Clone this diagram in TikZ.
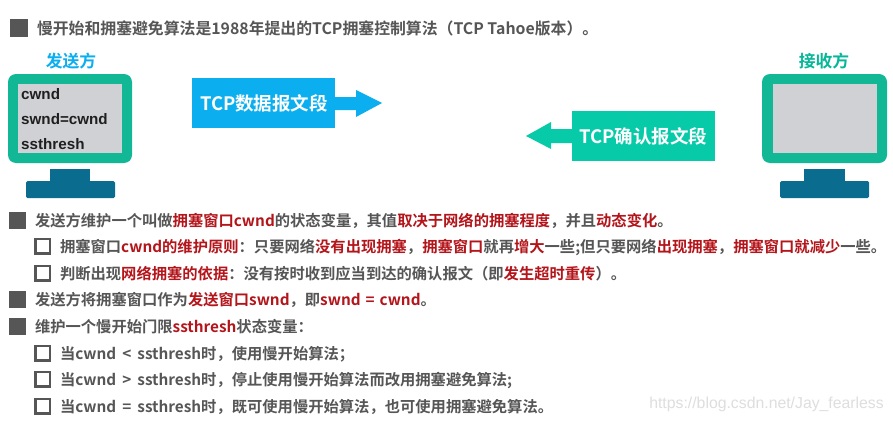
\documentclass[tikz,border=0pt]{standalone}
\usepackage{fontspec}
\setmainfont{Noto Sans CJK SC}[BoldFont={* Bold}]
\newfontfamily\cjkb{Noto Sans CJK SC Bold}
\newfontfamily\latinb{Liberation Sans Bold}
\newfontfamily\wmfont{Liberation Sans}
\usetikzlibrary{positioning}
\definecolor{txtgray}{HTML}{565656}
\definecolor{hired}{HTML}{B3151B}
\definecolor{framegreen}{HTML}{12B796}
\definecolor{standblue}{HTML}{0A6C8E}
\definecolor{screengray}{HTML}{D0D1D5}
\definecolor{pktblue}{HTML}{0BAEEF}
\definecolor{ackgreen}{HTML}{07CBA8}
\newcommand{\hr}[1]{\textcolor{hired}{#1}}
\newcommand{\opgap}{\hspace{2.6pt}}
\tikzset{
  x=1pt,y=-1pt,
  line/.style={anchor=base west,inner sep=0pt,outer sep=0pt,text=txtgray,font=\fontsize{15.3}{18}\selectfont\cjkb},
  solidb/.style={fill=txtgray,draw=none},
  hollowb/.style={draw=txtgray,line width=2.4pt,fill=white},
  frame/.style={fill=framegreen,rounded corners=8pt,draw=none},
  scr/.style={fill=screengray,draw=none},
  stand/.style={fill=standblue,draw=none},
  mono/.style={anchor=base west,inner sep=0pt,text=black!88,font=\fontsize{15.2}{18}\selectfont\latinb},
  pkt/.style={anchor=center,inner sep=0pt,text=white,font=\fontsize{18.5}{20}\selectfont\cjkb},
  who/.style={anchor=center,inner sep=0pt,font=\fontsize{16.8}{18}\selectfont\cjkb},
}
\begin{document}
\begin{tikzpicture}
\useasboundingbox (0,0) rectangle (893,420);
\fill[white] (0,0) rectangle (893,420);

% header
\fill[solidb] (10,19) rectangle (28,37);
\node[line,font=\fontsize{15.85}{18}\selectfont\cjkb] (l1) at (37,35) {慢开始和拥塞避免算法是1988年提出的TCP拥塞控制算法（TCP Tahoe版本）。};

% sender
\node[who,text=pktblue] (sender) at (71,61) {发送方};
\fill[frame] (8,74) rectangle (132,163);
\fill[scr] (18,84) rectangle (122,153);
\fill[stand] (50,169) rectangle (90,182);
\fill[stand,rounded corners=1.5pt] (26,181) rectangle (115,198);
\node[mono] (m1) at (21,99) {cwnd};
\node[mono] (m2) at (21,124) {swnd=cwnd};
\node[mono] (m3) at (21,149) {ssthresh};

% receiver
\node[who,text=ackgreen!90!black] (receiver) at (824,61) {接收方};
\fill[frame] (762,74) rectangle (887,163);
\fill[scr] (773,84) rectangle (877,153);
\fill[stand] (804,169) rectangle (845,182);
\fill[stand,rounded corners=1.5pt] (780,181) rectangle (869,198);

% segments
\fill[pktblue] (192,78) rectangle (335,128);
\fill[pktblue] (335,97) -- (356,97) -- (356,90) -- (382,103) -- (356,117) -- (356,110) -- (335,110) -- cycle;
\node[pkt] (data) at (264,103) {TCP数据报文段};
\fill[ackgreen] (572,111) rectangle (715,161);
\fill[ackgreen] (572,129) -- (551,129) -- (551,122) -- (526,136) -- (551,149) -- (551,143) -- (572,143) -- cycle;
\node[pkt] (ack) at (643.5,136) {TCP确认报文段};

% list
\fill[solidb] (9,212) rectangle (26,229);
\node[line] (l2) at (35,226) {发送方维护一个叫做\hr{拥塞窗口cwnd}的状态变量，其值\hr{取决于网络的拥塞程度}，并且\hr{动态变化}。};
\draw[hollowb] (35.5,239) rectangle (50,253.5);
\node[line] (l3) at (60,252.5) {拥塞窗口\hr{cwnd的维护原则}：只要网络\hr{没有出现拥塞}，\hr{拥塞窗口}就再\hr{增大}一些;但只要网络\hr{出现拥塞}，\hr{拥塞窗口就减少}一些。};
\draw[hollowb] (35.5,266) rectangle (50,280.5);
\node[line] (l4) at (60,279) {判断出现\hr{网络拥塞的依据}：没有按时收到应当到达的确认报文（即\hr{发生超时重传}）。};
\fill[solidb] (9,291) rectangle (26,308);
\node[line] (l5) at (35,305) {发送方将拥塞窗口作为\hr{发送窗口swnd}，即\hr{swnd\hspace{1.5pt} = \hspace{1.5pt}cwnd}。};
\fill[solidb] (9,318) rectangle (26,335);
\node[line] (l6) at (35,332.5) {维护一个慢开始门限\hr{ssthresh}状态变量：};
\draw[hollowb] (35.5,346) rectangle (50,360.5);
\node[line] (l7) at (60,359) {当cwnd\opgap{} < \opgap{}ssthresh时，使用慢开始算法；};
\draw[hollowb] (35.5,372) rectangle (50,386.5);
\node[line] (l8) at (60,385) {当cwnd\opgap{} > \opgap{}ssthresh时，停止使用慢开始算法而改用拥塞避免算法;};
\draw[hollowb] (35.5,399) rectangle (50,413.5);
\node[line] (l9) at (60,412) {当cwnd\opgap{} = \opgap{}ssthresh时，既可使用慢开始算法，也可使用拥塞避免算法。};

% watermark
\node[anchor=base east,inner sep=0pt,text=black!13,font=\fontsize{15.8}{18}\selectfont\wmfont] (wm) at (884,408) {https://blog.csdn.net/Jay\_fearless};
\end{tikzpicture}
\end{document}
